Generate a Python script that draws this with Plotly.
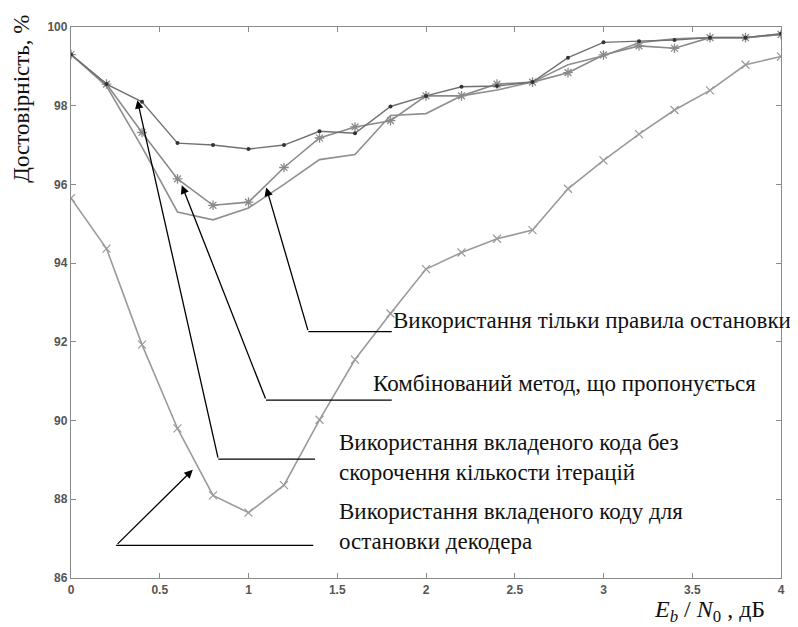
import plotly.graph_objects as go

ebn0 = [0.0, 0.2, 0.4, 0.6, 0.8, 1.0, 1.2, 1.4, 1.6, 1.8, 2.0,
        2.2, 2.4, 2.6, 2.8, 3.0, 3.2, 3.4, 3.6, 3.8, 4.0]

# dotted-marker curve (upper)
dots_curve = [99.3, 98.55, 98.1, 97.05, 97.0, 96.9, 97.0, 97.35, 97.3, 97.98, 98.25,
              98.48, 98.5, 98.6, 99.22, 99.61, 99.64, 99.67, 99.73, 99.73, 99.83]
# asterisk-marker curve (combined method)
star_curve = [99.3, 98.55, 97.32, 96.14, 95.47, 95.55, 96.43, 97.18, 97.46, 97.62, 98.25,
              98.25, 98.55, 98.6, 98.84, 99.29, 99.52, 99.46, 99.73, 99.73, 99.81]
# plain curve
plain_curve = [99.3, 98.5, 96.95, 95.3, 95.1, 95.4, 96.0, 96.63, 96.76, 97.75, 97.8,
               98.25, 98.4, 98.6, 99.04, 99.27, 99.6, 99.7, 99.73, 99.73, 99.81]
# x-marker curve (lowest)
cross_curve = [95.65, 94.37, 91.93, 89.8, 88.1, 87.66, 88.36, 90.02, 91.55, 92.72, 93.85,
               94.27, 94.62, 94.84, 95.89, 96.61, 97.28, 97.89, 98.39, 99.04, 99.25]

x_ticks = [0, 0.5, 1, 1.5, 2, 2.5, 3, 3.5, 4]
x_tick_text = ["0", "0.5", "1", "1.5", "2", "2.5", "3", "3.5", "4"]
y_ticks = [86, 88, 90, 92, 94, 96, 98, 100]

labels = [
    "Використання тільки правила остановки",
    "Комбінований метод, що пропонується",
    "Використання вкладеного кода без<br>скорочення кількости ітерацій",
    "Використання вкладеного коду для<br>остановки декодера",
]

fig = go.Figure()
fig.add_trace(go.Scatter(x=ebn0, y=plain_curve, mode="lines",
                         line=dict(color="#8f8f8f", width=1.6), showlegend=False))
fig.add_trace(go.Scatter(x=ebn0, y=cross_curve, mode="lines+markers",
                         line=dict(color="#9a9a9a", width=1.6),
                         marker=dict(symbol="x-thin-open", size=8,
                                     line=dict(color="#7a7a7a", width=1.2)),
                         showlegend=False))
fig.add_trace(go.Scatter(x=ebn0, y=star_curve, mode="lines+markers",
                         line=dict(color="#8a8a8a", width=1.6),
                         marker=dict(symbol="asterisk-open", size=8,
                                     line=dict(color="#555555", width=1.3)),
                         showlegend=False))
fig.add_trace(go.Scatter(x=ebn0, y=dots_curve, mode="lines+markers",
                         line=dict(color="#707070", width=1.4),
                         marker=dict(symbol="circle", size=4, color="#333333"),
                         showlegend=False))

serif = "Liberation Serif, Times New Roman, serif"
txt_font = dict(family=serif, size=23, color="#111111")

# text labels
fig.add_annotation(x=1.8, y=92.55, text=labels[0], showarrow=False,
                   xanchor="left", yanchor="middle", font=txt_font)
fig.add_annotation(x=1.69, y=90.95, text=labels[1], showarrow=False,
                   xanchor="left", yanchor="middle", font=txt_font)
fig.add_annotation(x=1.499, y=89.05, text=labels[2], showarrow=False,
                   xanchor="left", yanchor="middle", align="left", font=txt_font)
fig.add_annotation(x=1.499, y=87.3, text=labels[3], showarrow=False,
                   xanchor="left", yanchor="middle", align="left", font=txt_font)

# leader lines (horizontal parts)
leaders = [(1.337, 1.807, 92.26), (1.099, 1.807, 90.52),
           (0.83, 1.375, 89.02), (0.254, 1.365, 86.83)]
for x0, x1, yy in leaders:
    fig.add_shape(type="line", xref="x", yref="y", x0=x0, x1=x1, y0=yy, y1=yy,
                  line=dict(color="black", width=1.3))

# arrows: (tail_x, tail_y, head_x, head_y)
arrows = [(1.337, 92.26, 1.10, 95.92), (1.099, 90.52, 0.624, 95.98),
          (0.83, 89.02, 0.374, 98.14), (0.254, 86.83, 0.686, 88.75)]
for ax_, ay_, hx, hy in arrows:
    fig.add_annotation(x=hx, y=hy, ax=ax_, ay=ay_, xref="x", yref="y",
                       axref="x", ayref="y", text="", showarrow=True,
                       arrowhead=2, arrowsize=1.3, arrowwidth=1.3,
                       arrowcolor="black", standoff=0, startstandoff=0)

# axis titles
fig.add_annotation(xref="paper", yref="paper", x=-0.069, y=0.87,
                   text="Достовірність, %", textangle=-90, showarrow=False,
                   xanchor="center", yanchor="middle",
                   font=dict(family=serif, size=23, color="#111111"))
fig.add_annotation(xref="paper", yref="paper", x=0.818, y=-0.059,
                   text="<i>E<sub>b</sub></i> / <i>N</i><sub>0</sub> , дБ",
                   showarrow=False, xanchor="left", yanchor="middle",
                   font=dict(family=serif, size=24, color="#111111"))

axis_common = dict(showgrid=False, zeroline=False, showline=True, linecolor="#8a8a8a",
                   linewidth=1.3, mirror="ticks", ticks="inside", ticklen=5,
                   tickcolor="#8a8a8a", tickwidth=1,
                   tickfont=dict(family="Liberation Sans, Arial, sans-serif", size=12,
                                 color="#555555", weight="bold"))
fig.update_xaxes(range=[0, 4], tickvals=x_ticks, ticktext=x_tick_text, **axis_common)
fig.update_yaxes(range=[86, 100], tickvals=y_ticks, **axis_common)

# page body has an 8px margin: figure sized so the plot area lands where the reference has it
fig.update_layout(width=790, height=619, paper_bgcolor="white", plot_bgcolor="white",
                  margin=dict(l=63, r=17, t=12, b=49), showlegend=False)

fig.write_html("out.html")
